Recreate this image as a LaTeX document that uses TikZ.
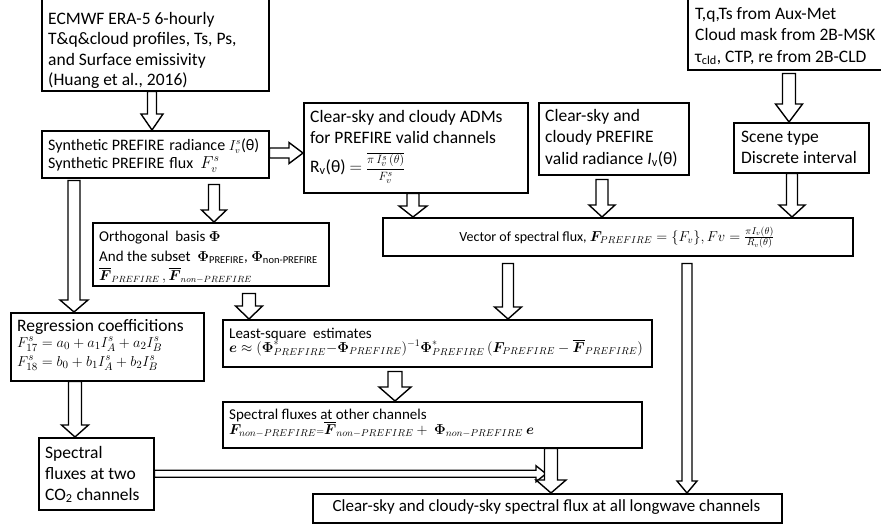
\documentclass[tikz,border=0pt]{standalone}
\usepackage{amsmath}
\usepackage{fontspec}
\setmainfont{Carlito}
\usepackage{bm}
\usetikzlibrary{calc}

% font sizes used in the boxes
\newcommand{\bigtxt}{\fontsize{17.5}{21}\selectfont}
\newcommand{\midtxt}{\fontsize{16}{18}\selectfont}

\tikzset{
  box/.style={draw, line width=1.5pt, fill=white, anchor=north west, inner sep=0pt},
  line/.style={anchor=base west, inner sep=0pt},
  cline/.style={anchor=base, inner sep=0pt},
  blockarrow/.style={draw, line width=1.4pt, fill=white, line join=miter},
}

% hollow block arrow pointing down: start point, point giving the tip height,
% gap below the start, shaft width, head width, head length
\newcommand{\varrow}[6]{%
  \draw[blockarrow] let \p1=(#1), \p2=(#2) in
    (\x1-#4/2,\y1-#3) -- (\x1-#4/2,\y2+#6) -- (\x1-#5/2,\y2+#6) -- (\x1,\y2)
    -- (\x1+#5/2,\y2+#6) -- (\x1+#4/2,\y2+#6) -- (\x1+#4/2,\y1-#3) -- cycle;}
% hollow block arrow pointing right
\newcommand{\harrow}[6]{%
  \draw[blockarrow] let \p1=(#1), \p2=(#2) in
    (\x1+#3,\y1+#4/2) -- (\x2-#6,\y1+#4/2) -- (\x2-#6,\y1+#5/2) -- (\x2,\y1)
    -- (\x2-#6,\y1-#5/2) -- (\x2-#6,\y1-#4/2) -- (\x1+#3,\y1-#4/2) -- cycle;}

\begin{document}
\begin{tikzpicture}[x=1pt, y=-1pt]
\useasboundingbox (0,0) rectangle (881,525);
\fill[white] (0,0) rectangle (881,525);

% ---- boxes ----
\node[box, minimum width=227pt, minimum height=92pt] (era)    at (41,-2)  {};
\node[box, minimum width=227pt, minimum height=47pt] (synth)  at (41,130) {};
\node[box, minimum width=224pt, minimum height=90pt] (adm)    at (303,102) {};
\node[box, minimum width=150pt, minimum height=72pt] (valid)  at (538,102) {};
\node[box, minimum width=199pt, minimum height=72pt] (aux)    at (687,-3) {};
\node[box, minimum width=135pt, minimum height=50pt] (scene)  at (733,122) {};
\node[box, minimum width=470pt, minimum height=38pt] (vector) at (382,217) {};
\node[box, minimum width=236pt, minimum height=63pt] (ortho)  at (92,222) {};
\node[box, minimum width=193pt, minimum height=68pt] (regr)   at (10,312) {};
\node[box, minimum width=429pt, minimum height=47pt] (lsq)    at (222,319) {};
\node[box, minimum width=419pt, minimum height=46pt] (other)  at (222,401) {};
\node[box, minimum width=115pt, minimum height=72pt] (co2)    at (38,437) {};
\node[box, minimum width=469pt, minimum height=29pt] (final)  at (312,493) {};

% ---- texts ----
\begin{scope}[font=\bigtxt]
\node[line] (era1) at (48,24)   {ECMWF ERA-5 6-hourly};
\node[line] (era2) at (48,44.5) {T\&q\&cloud profiles, Ts, Ps,};
\node[line] (era3) at (48,65)   {and Surface emissivity};
\node[line] (era4) at (48,85.5) {(Huang et al., 2016)};

\node[line] (adm1) at (310,122.5) {Clear-sky and cloudy ADMs};
\node[line] (adm2) at (310,143.5) {for PREFIRE valid channels};
\node[line] (adm3) at (310,172)
  {R\textsubscript{v}(θ) $=$ {\fontsize{12.5}{14}\selectfont$\displaystyle\frac{\overline{\pi\,I_v^s\,(\theta)}}{F_v^s}$}};

\node[line] (val1) at (545,121)   {Clear-sky and};
\node[line] (val2) at (545,142.5) {cloudy PREFIRE};
\node[line] (val3) at (545,164)   {valid radiance \textit{I}\textsubscript{v}(θ)};

\node[line] (aux1) at (695,19)   {T,q,Ts from Aux-Met};
\node[line] (aux2) at (695,40.5) {Cloud mask from 2B-MSK};
\node[line] (aux3) at (695,62)   {τ\textsubscript{cld}, CTP, re from 2B-CLD};

\node[line] (sce1) at (741,142)   {Scene type};
\node[line] (sce2) at (741,163.5) {Discrete interval};

\node[line] (reg1) at (17,331) {Regression coefficitions};

\node[line] (co21) at (45,458) {Spectral};
\node[line] (co22) at (45,479) {fluxes at two};
\node[line] (co23) at (45,500) {CO\textsubscript{2} channels};

\node[cline, font=\fontsize{17}{20}\selectfont] (fin1) at (546.5,511)
  {Clear-sky and cloudy-sky spectral flux at all longwave channels};
\end{scope}

\begin{scope}[font=\midtxt]
\node[line] (syn1) at (48,150)
  {Synthetic PREFIRE\hspace{5pt}radiance {\fontsize{13.5}{16}\selectfont$I_v^s$}(θ)};
\node[line] (syn2) at (48,168) {Synthetic PREFIRE\hspace{5pt}flux\ \ $F_v^s$};
\end{scope}

\node[cline, font=\fontsize{14}{16}\selectfont] (vec1) at (617,241)
  {Vector of spectral flux, $\bm{F}_{PREFIRE}=\{F_v\},Fv=\frac{\pi I_v(\theta)}{R_v(\theta)}$};

\begin{scope}[font=\fontsize{15}{18}\selectfont]
\node[line] (ort1) at (99,241) {Orthogonal\ \ basis $\bm{\Phi}$};
\node[line] (ort2) at (99,261) {And the subset\ \ $\bm{\Phi}$\textsubscript{PREFIRE}, $\bm{\Phi}$\textsubscript{non-PREFIRE}};
\node[line, font=\fontsize{13.5}{16}\selectfont] (ort3) at (99,280)
  {$\overline{\bm{F}}_{PREFIRE}\,,\overline{\bm{F}}_{non-PREFIRE}$};

\node[line] (reg2) at (17,347) {$F_{17}^s = a_0 + a_1 I_A^s + a_2 I_B^s$};
\node[line] (reg3) at (17,366) {$F_{18}^s = b_0 + b_1 I_A^s + b_2 I_B^s$};

\node[line] (lsq1) at (229,338) {Least-square\ \ estimates};
\node[line, font=\fontsize{14.1}{16}\selectfont] (lsq2) at (229,352)
  {$\bm{e}\approx(\bm{\Phi}^*_{PREFIRE}{-}\bm{\Phi}_{PREFIRE})^{-1}\bm{\Phi}^*_{PREFIRE}\,(\bm{F}_{PREFIRE}-\overline{\bm{F}}_{PREFIRE})$};

\node[line] (oth1) at (229,419) {Spectral fluxes at other channels};
\node[line, font=\fontsize{14.3}{16}\selectfont] (oth2) at (229,434)
  {$\bm{F}_{non-PREFIRE}{\scriptstyle =}\overline{\bm{F}}_{non-PREFIRE}+\ \bm{\Phi}_{non-PREFIRE}\ \bm{e}$};
\end{scope}

% free end of the arrow leaving the CO2 box
\coordinate (co2tip) at (546,474);

% ---- hollow arrows ----
\varrow{[xshift=111pt]era.south west}{synth.north}{0pt}{9pt}{22pt}{16pt}
\harrow{[yshift=-23pt]synth.north east}{adm.west}{0pt}{10pt}{21pt}{14pt}
\varrow{[xshift=173pt]synth.south west}{ortho.north}{6pt}{11pt}{25pt}{12pt}
\varrow{[xshift=33pt]synth.south west}{regr.north}{2pt}{12pt}{28pt}{12pt}
\varrow{[xshift=110pt]adm.south west}{vector.north}{0pt}{12pt}{28pt}{11pt}
\varrow{[xshift=64pt]valid.south west}{vector.north}{4pt}{12pt}{26pt}{12pt}
\varrow{[xshift=102pt]aux.south west}{scene.north}{3pt}{13pt}{27pt}{18pt}
\varrow{[xshift=59pt]scene.south west}{vector.north}{0pt}{11pt}{26pt}{12pt}
\varrow{[xshift=157pt]ortho.south west}{lsq.north}{7pt}{13pt}{27pt}{13pt}
\varrow{[xshift=126pt]vector.south west}{lsq.north}{7pt}{11pt}{27pt}{12pt}
\varrow{[xshift=305pt]vector.south west}{final.north}{7pt}{10pt}{20pt}{12pt}
\varrow{[xshift=173pt]lsq.south west}{other.north}{4pt}{14pt}{32pt}{14pt}
\varrow{[xshift=65pt]regr.south west}{co2.north}{0pt}{13pt}{27pt}{12pt}
\harrow{co2.east}{co2tip}{0pt}{7pt}{16pt}{10pt}
\varrow{[xshift=329pt]other.south west}{final.north}{0pt}{13pt}{30pt}{13pt}
\end{tikzpicture}
\end{document}
